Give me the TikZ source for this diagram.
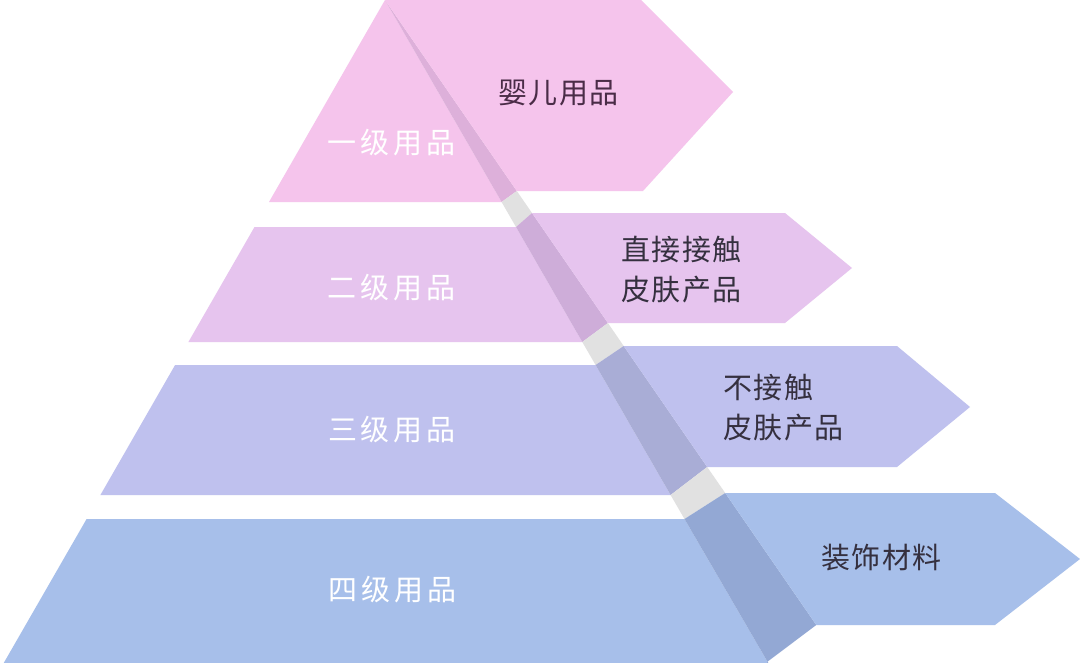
\documentclass[tikz,border=0pt]{standalone}
\usepackage{fontspec}
\newfontfamily\cjk{Noto Sans CJK SC}
\definecolor{tA}{HTML}{F5C4EC}
\definecolor{tB}{HTML}{E6C4EE}
\definecolor{tC}{HTML}{BFC1EE}
\definecolor{tD}{HTML}{A7BFEA}
\definecolor{bA}{HTML}{DDB0DA}
\definecolor{bB}{HTML}{CEADD9}
\definecolor{bC}{HTML}{A9ADD6}
\definecolor{bD}{HTML}{93A8D4}
\definecolor{gapc}{HTML}{E1E1E1}
\definecolor{darkA}{HTML}{4A2C47}
\definecolor{darkB}{HTML}{35303F}
\newcommand{\lsL}{\kern4pt}
\newcommand{\lsR}{\kern1.5pt}
\begin{document}
\begin{tikzpicture}[x=1pt,y=-1pt,
  lefttxt/.style={text=white,inner sep=0pt,font=\cjk\fontsize{29}{32}\selectfont},
  righttxt/.style={text=darkB,inner sep=0pt,align=left,font=\cjk\fontsize{29}{40}\selectfont}]
\useasboundingbox (0,0) rectangle (1080,662);
\clip (0,0) rectangle (1080,662);
\fill[white] (0,0) rectangle (1080,662);
% left tiers
\fill[tA] (385,0) -- (269,202) -- (501.6,202) -- cycle;
\fill[tB] (254.5,227) -- (188.4,342) -- (582.3,342) -- (516,227) -- cycle;
\fill[tC] (175.1,365) -- (100.4,495) -- (670.6,495) -- (595.6,365) -- cycle;
\fill[tD] (86.6,519) -- (2,666) -- (770,666) -- (684.5,519) -- cycle;
% side band
\fill[bA] (385,0) -- (516.8,191) -- (501.6,202) -- cycle;
\fill[gapc] (501.6,202) -- (516.8,191) -- (532,213) -- (516,227) -- cycle;
\fill[bB] (516,227) -- (532,213) -- (607.9,323) -- (582.3,342) -- cycle;
\fill[gapc] (582.3,342) -- (607.9,323) -- (623.7,346) -- (595.6,365) -- cycle;
\fill[bC] (595.6,365) -- (623.7,346) -- (707.2,467) -- (670.6,495) -- cycle;
\fill[gapc] (670.6,495) -- (707.2,467) -- (725.2,493) -- (684.5,519) -- cycle;
\fill[bD] (684.5,519) -- (725.2,493) -- (816.3,625) -- (767,662) -- (770,666) -- cycle;
% arrows
\fill[tA] (385,0) -- (641,0) -- (733,92) -- (643,191) -- (516.8,191) -- cycle;
\fill[tB] (532,213) -- (785,213) -- (852,268) -- (785,323) -- (607.9,323) -- cycle;
\fill[tC] (623.7,346) -- (897,346) -- (970,407) -- (897,467) -- (707.2,467) -- cycle;
\fill[tD] (725.2,493) -- (995,493) -- (1080,559) -- (995,625) -- (816.3,625) -- cycle;
% left labels
\node[lefttxt] (l1) at (391.5,143) {一\lsL 级\lsL 用\lsL 品};
\node[lefttxt] (l2) at (391.5,288) {二\lsL 级\lsL 用\lsL 品};
\node[lefttxt] (l3) at (392,430) {三\lsL 级\lsL 用\lsL 品};
\node[lefttxt] (l4) at (392.5,590) {四\lsL 级\lsL 用\lsL 品};
% right labels
\node[righttxt,text=darkA] (r1) at (558.5,93) {婴\lsR 儿\lsR 用\lsR 品};
\node[righttxt,anchor=west] (r2) at (621,270) {直\lsR 接\lsR 接\lsR 触\\皮\lsR 肤\lsR 产\lsR 品};
\node[righttxt,anchor=west] (r3) at (723,408) {不\lsR 接\lsR 触\\皮\lsR 肤\lsR 产\lsR 品};
\node[righttxt] (r4) at (881.5,558) {装\lsR 饰\lsR 材\lsR 料};
\end{tikzpicture}
\end{document}
